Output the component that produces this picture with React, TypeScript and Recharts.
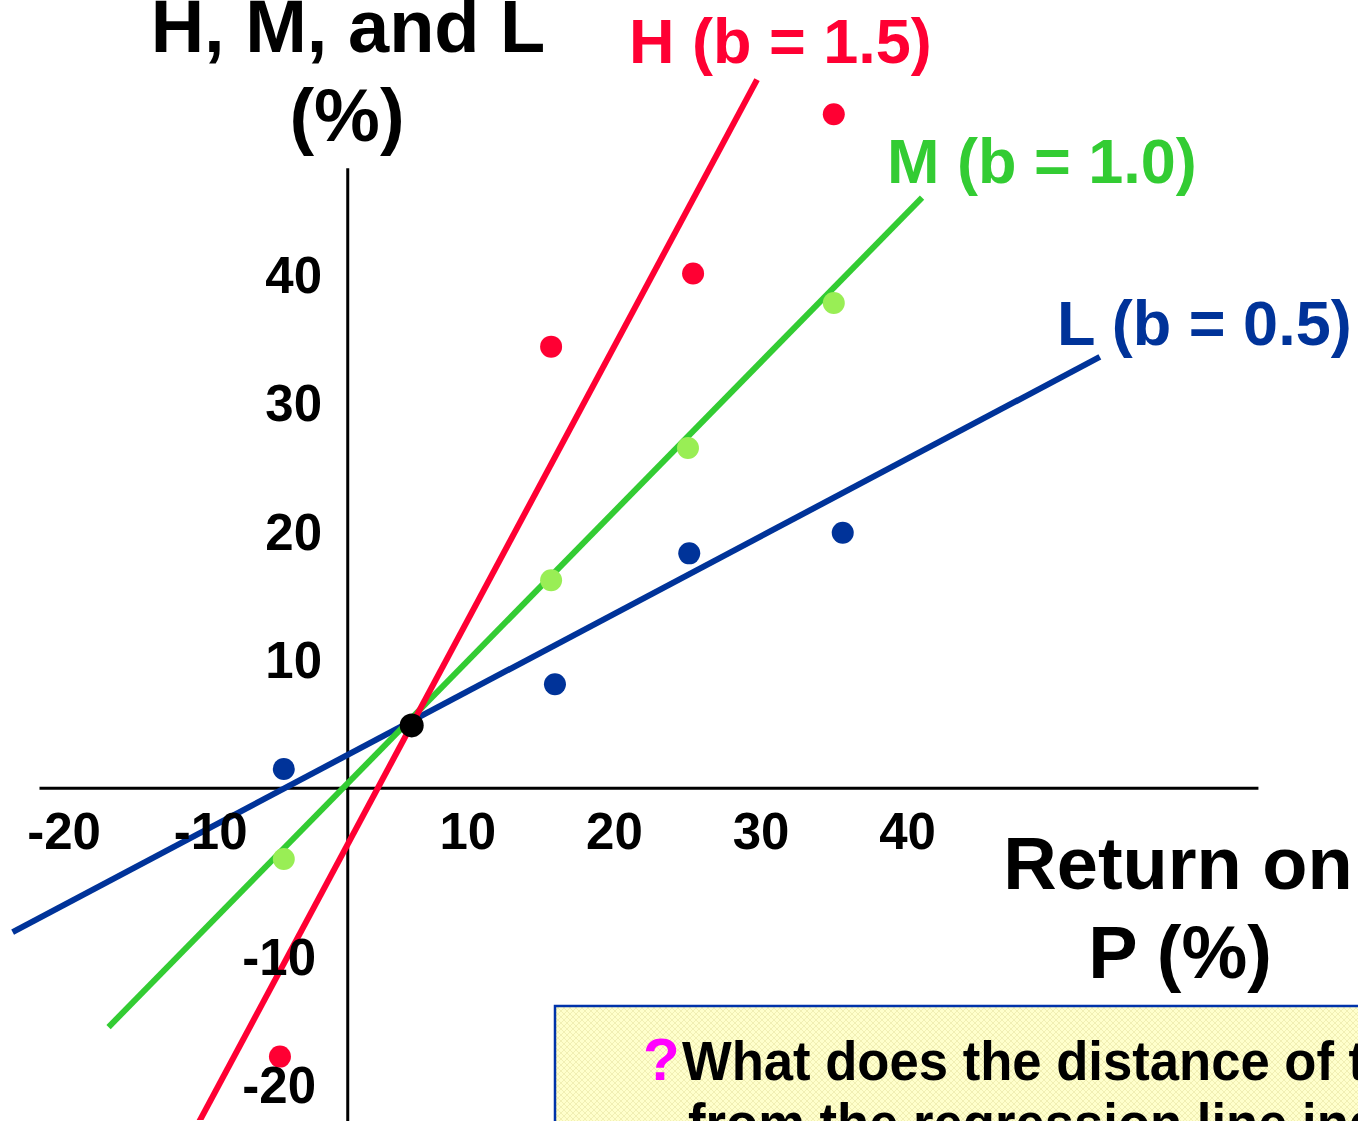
import React from 'react'
import { ComposedChart, Scatter, XAxis, YAxis, ReferenceLine, Customized } from 'recharts'

const W = 1358
const H = 1121
const FONT = '"Liberation Sans", Arial, Helvetica, sans-serif'

const RED = '#ff0033'
const GREEN = '#33cc33'
const GREEN_DOT = '#99ee55'
const BLUE = '#003399'

// data scale: axes cross at (X0, Y0), pixels per unit
const X0 = 347
const SX = 12.8
const Y0 = 789
const SY = 12.85
// the slide's x tick labels sit on their own spacing
const LX0 = 320.5
const LSX = 14.67
// labels on the negative side are pushed away from the axes
const NEG_SHIFT_X = 36
const NEG_SHIFT_Y = 40

const xTicks = [-20, -10, 10, 20, 30, 40]
const yTicks = [40, 30, 20, 10, -10, -20]

// observed returns (P, stock)
const hPoints = [
  { x: -5.3, y: -20.9 },
  { x: 15.9, y: 34.4 },
  { x: 27.0, y: 40.1 },
  { x: 38.0, y: 52.5 },
]
const mPoints = [
  { x: -5.0, y: -5.5 },
  { x: 15.9, y: 16.2 },
  { x: 26.6, y: 26.5 },
  { x: 38.0, y: 37.8 },
]
const lPoints = [
  { x: -5.0, y: 1.5 },
  { x: 16.2, y: 8.1 },
  { x: 26.7, y: 18.3 },
  { x: 38.7, y: 19.9 },
]
const common = [{ x: 5.0, y: 4.9 }]

// regression lines (end points)
const hLine = [
  { x: -11.9, y: -26.5 },
  { x: 32.0, y: 55.2 },
]
const mLine = [
  { x: -18.7, y: -18.6 },
  { x: 44.9, y: 46.0 },
]
const lLine = [
  { x: -26.2, y: -11.2 },
  { x: 58.8, y: 33.6 },
]

const xAxisSpan = [-24.1, 71.2]
const yAxisSpan = [-26.5, 48.3]

// anchor so the label axes get registered
const tickAnchor = xTicks.map((v, i) => ({ x: v, y: yTicks[i] }))

const dot = (fill: string, r: number) => (p: any) =>
  <circle cx={p.cx} cy={p.cy} r={r} fill={fill} />

const noShape = () => <g />

const XTick = (p: any) => {
  const v = p.payload.value
  return (
    <text x={p.x + (v < 0 ? NEG_SHIFT_X : 0)} y={849} textAnchor="middle" fontSize={51} fontWeight="bold" fontFamily={FONT} fill="#000">
      {v}
    </text>
  )
}

const YTick = (p: any) => {
  const v = p.payload.value
  return (
    <text x={v < 0 ? 316 : 322} y={p.y + 18 + (v < 0 ? NEG_SHIFT_Y : 0)} textAnchor="end" fontSize={51} fontWeight="bold" fontFamily={FONT} fill="#000">
      {v}
    </text>
  )
}

const Labels = () => (
  <g fontFamily={FONT} fontWeight="bold">
    <defs>
      <pattern id="note" width="6" height="6" patternUnits="userSpaceOnUse">
        <rect width="6" height="6" fill="#ffffcc" />
        <path d="M0 0L6 6M6 0L0 6" stroke="#f1efb4" strokeWidth="1" />
      </pattern>
    </defs>
    <text x={348} y={52} textAnchor="middle" fontSize={74} fill="#000">H, M, and L</text>
    <text x={347} y={141} textAnchor="middle" fontSize={74} fill="#000">(%)</text>
    <text x={629} y={63} fontSize={63} fill={RED}>H (b = 1.5)</text>
    <text x={887} y={183} fontSize={63} fill={GREEN}>M (b = 1.0)</text>
    <text x={1057} y={345} fontSize={63} fill={BLUE}>L (b = 0.5)</text>
    <text x={1178} y={889} textAnchor="middle" fontSize={74} fill="#000">Return on</text>
    <text x={1180} y={978} textAnchor="middle" fontSize={74} fill="#000">P (%)</text>
    <rect x={555} y={1006} width={900} height={200} fill="url(#note)" stroke="#0033aa" strokeWidth={2.5} />
    <text x={643} y={1080} fontSize={60} fill="#ff00ff">?</text>
    <text transform="translate(682,1080) scale(0.94,1)" fontSize={56} fill="#000">What does the distance of the points</text>
    <text transform="translate(688,1142) scale(0.94,1)" fontSize={56} fill="#000">from the regression line indicate?</text>
  </g>
)

const lineStyle = (c: string) => ({ stroke: c, strokeWidth: 6 })

export default function App() {
  return (
    <div style={{ position: 'absolute', left: 0, top: 0, width: W, height: H, background: '#fff' }}>
      <ComposedChart width={W} height={H} margin={{ top: 0, right: 0, bottom: 0, left: 0 }}>
        <XAxis xAxisId="d" type="number" dataKey="x" hide allowDataOverflow domain={[-X0 / SX, (W - X0) / SX]} />
        <YAxis yAxisId="d" type="number" dataKey="y" hide allowDataOverflow domain={[-(H - Y0) / SY, Y0 / SY]} />
        <XAxis
          xAxisId="lbl"
          type="number"
          dataKey="x"
          height={1}
          allowDataOverflow
          domain={[-LX0 / LSX, (W - LX0) / LSX]}
          ticks={xTicks}
          interval={0}
          axisLine={false}
          tickLine={false}
          tick={XTick}
        />
        <YAxis
          yAxisId="lbl"
          type="number"
          dataKey="y"
          width={1}
          allowDataOverflow
          domain={[-(H - Y0) / SY, Y0 / SY]}
          ticks={yTicks}
          interval={0}
          axisLine={false}
          tickLine={false}
          tick={YTick}
        />

        <ReferenceLine xAxisId="d" yAxisId="d" segment={[{ x: xAxisSpan[0], y: 0 }, { x: xAxisSpan[1], y: 0 }]} stroke="#000" strokeWidth={3} ifOverflow="visible" />
        <ReferenceLine xAxisId="d" yAxisId="d" segment={[{ x: 0, y: yAxisSpan[0] }, { x: 0, y: yAxisSpan[1] }]} stroke="#000" strokeWidth={3} ifOverflow="visible" />

        <Scatter xAxisId="lbl" yAxisId="lbl" data={tickAnchor} shape={noShape} isAnimationActive={false} />

        <Scatter xAxisId="d" yAxisId="d" data={lLine} line={lineStyle(BLUE)} strokeWidth={6} shape={noShape} isAnimationActive={false} />
        <Scatter xAxisId="d" yAxisId="d" data={mLine} line={lineStyle(GREEN)} strokeWidth={6} shape={noShape} isAnimationActive={false} />
        <Scatter xAxisId="d" yAxisId="d" data={hLine} line={lineStyle(RED)} strokeWidth={6} shape={noShape} isAnimationActive={false} />

        <Scatter xAxisId="d" yAxisId="d" data={hPoints} shape={dot(RED, 11)} isAnimationActive={false} />
        <Scatter xAxisId="d" yAxisId="d" data={mPoints} shape={dot(GREEN_DOT, 11)} isAnimationActive={false} />
        <Scatter xAxisId="d" yAxisId="d" data={lPoints} shape={dot(BLUE, 11)} isAnimationActive={false} />
        <Scatter xAxisId="d" yAxisId="d" data={common} shape={dot('#000', 12)} isAnimationActive={false} />

        <Customized component={Labels} />
      </ComposedChart>
    </div>
  )
}
